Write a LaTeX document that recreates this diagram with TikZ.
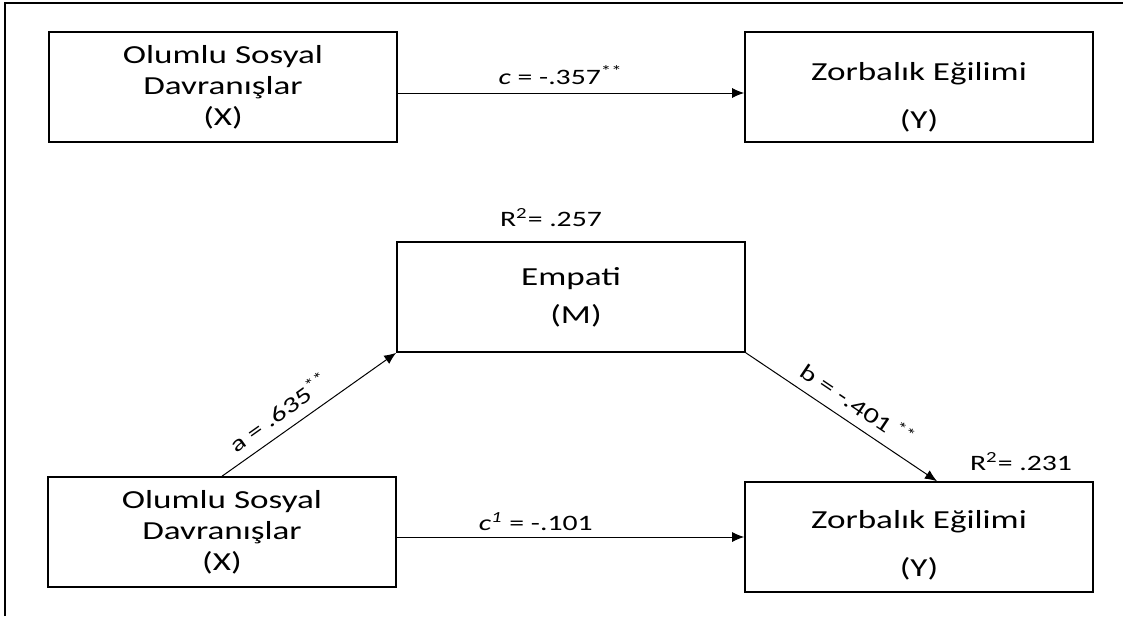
\documentclass[tikz,border=0pt]{standalone}
\usepackage{fontspec}
\setmainfont{Carlito}[FakeStretch=1.35]
\usetikzlibrary{arrows.meta, positioning}

\tikzset{
  varbox/.style={draw, line width=0.8pt, minimum width=174pt, minimum height=55pt,
    align=center, inner sep=2pt, font=\fontsize{13}{15.5}\selectfont},
  effarrow/.style={-{Latex[length=6pt,width=5pt]}, line width=0.5pt},
  coef/.style={font=\fontsize{11}{13}\selectfont, inner sep=1pt}
}

\begin{document}
\begin{tikzpicture}[x=0.5pt, y=-0.5pt]
  \useasboundingbox (0,0) rectangle (1123,616);
  \draw[line width=1.3pt] (5,616) -- (5,3) -- (1123,3);

  % total effect
  \node[varbox] (X1) at (223,87) {Olumlu Sosyal\\Davranışlar\\(X)};
  \node[varbox] (Y1) at (919,87) {\rule{0pt}{19pt}Zorbalık Eğilimi\\[8.5pt](Y)};

  % mediation model
  \node[varbox] (M) at (571,297) {Empati\\[3.5pt]\hspace{5pt}(M)};
  \node[varbox] (X2) at (222,532) {Olumlu Sosyal\\Davranışlar\\(X)};
  \node[varbox] (Y2) at (919,537) {\rule{0pt}{17pt}Zorbalık Eğilimi\\[8.5pt](Y)};

  \node[coef, above=6pt of M, xshift=-10pt] (R2M) {R\textsuperscript{2}= .257};
  \node[coef, above=4pt of Y2, xshift=51pt] (R2Y) {R\textsuperscript{2}= .231};

  \draw[effarrow] ([yshift=-3pt]X1.east) -- node[coef, above=3pt, pos=0.47] {\textit{c} = -.357\textsuperscript{**}} ([yshift=-3pt]Y1.west);
  \draw[effarrow] (X2.north) -- node[coef, sloped, above=4pt, pos=0.39] {a = .635\textsuperscript{**}} (M.south west);
  \draw[effarrow] (M.south east) -- node[coef, sloped, above=4pt, pos=0.53] {b = -.401\,\textsuperscript{**}} ([xshift=9pt]Y2.north);
  \draw[effarrow] (Y2.west -| X2.east) -- node[coef, above=2pt, pos=0.4] {\textit{c}\textsuperscript{\textit{1}} = -.101} (Y2.west);
\end{tikzpicture}
\end{document}
